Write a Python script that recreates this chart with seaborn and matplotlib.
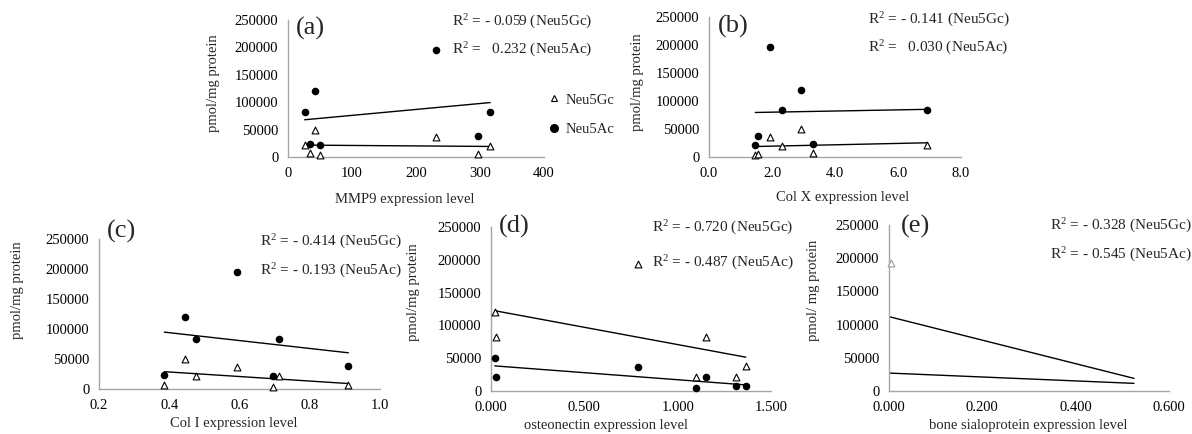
import numpy as np
import pandas as pd
import matplotlib
matplotlib.use("Agg")
import matplotlib.pyplot as plt
from matplotlib.ticker import StrMethodFormatter
import seaborn as sns

# ---------------- data ----------------
mmp9 = [26, 35, 42, 50, 232, 297, 316]
mmp9_gc = [21000, 7000, 50000, 4000, 37000, 6000, 20000]
mmp9_ac = [83000, 23000, 120000, 22000, 195000, 38000, 83000]

colx = [1.47, 1.55, 1.95, 2.33, 2.93, 3.29, 6.93]
colx_gc = [4000, 6000, 36000, 20000, 50000, 6500, 21000]
colx_ac = [22000, 38000, 196000, 84000, 120000, 23000, 84000]

coli = [0.386, 0.444, 0.476, 0.593, 0.694, 0.713, 0.910]
coli_gc = [6000, 50000, 21000, 37000, 4000, 21000, 6000]
coli_ac = [23000, 120000, 83000, 195000, 22000, 83000, 38000]

osteo = [0.020, 0.025, 0.785, 1.100, 1.150, 1.310, 1.365]
osteo_gc = [120000, 83000, 194000, 21000, 83000, 22000, 38000]
osteo_ac = [50000, 21000, 37000, 4000, 21000, 7000, 7000]

bsp_visible_x = [0.005]
bsp_visible_gc = [193000]
bsp_fit_x = [0.0, 0.525]
bsp_fit_ac = [112000, 19000]
bsp_fit_gc = [27000, 11500]

r2_labels = {
    "a": ["R$^{2}$ = - 0.059 (Neu5Gc)", "R$^{2}$ =   0.232 (Neu5Ac)"],
    "b": ["R$^{2}$ = - 0.141 (Neu5Gc)", "R$^{2}$ =   0.030 (Neu5Ac)"],
    "c": ["R$^{2}$ = - 0.414 (Neu5Gc)", "R$^{2}$ = - 0.193 (Neu5Ac)"],
    "d": ["R$^{2}$ = - 0.720 (Neu5Gc)", "R$^{2}$ = - 0.487 (Neu5Ac)"],
    "e": ["R$^{2}$ = - 0.328 (Neu5Gc)", "R$^{2}$ = - 0.545 (Neu5Ac)"],
}
y_ticks = [0, 50000, 100000, 150000, 200000, 250000]

# ---------------- style ----------------
sns.set_theme(style="white")
plt.rcParams["font.family"] = ["Liberation Serif", "DejaVu Serif"]
plt.rcParams["mathtext.fontset"] = "custom"
plt.rcParams["mathtext.rm"] = "Liberation Serif"
plt.rcParams["mathtext.it"] = "Liberation Serif:italic"
plt.rcParams["mathtext.bf"] = "Liberation Serif:bold"

W, H = 1192, 434
fig = plt.figure(figsize=(W / 100, H / 100), dpi=100)
GRAY = "#a6a6a6"


def add_ax(l, t, r, b):
    return fig.add_axes([l / W, 1 - b / H, (r - l) / W, (b - t) / H])


def ftext(px, py, s, size, ha="left", rot=0):
    fig.text(px / W, 1 - py / H, s, fontsize=size, ha=ha, va="center", rotation=rot)


def style(ax, xlim, xticks, fmt):
    ax.set_xlim(*xlim)
    ax.set_ylim(0, 250000)
    ax.set_xticks(xticks)
    ax.set_yticks(y_ticks)
    ax.xaxis.set_major_formatter(StrMethodFormatter(fmt))
    ax.yaxis.set_major_formatter(StrMethodFormatter("{x:.0f}"))
    sns.despine(ax=ax)
    for s in ("left", "bottom"):
        ax.spines[s].set_color(GRAY)
        ax.spines[s].set_linewidth(1.0)
    ax.tick_params(direction="out", length=4, width=1.0, color=GRAY,
                   labelsize=10.5, pad=3, labelcolor="black")
    ax.set_xlabel("")
    ax.set_ylabel("")


def scatter_pair(ax, x, gc, ac):
    sns.scatterplot(x=x, y=gc, ax=ax, marker="^", s=24, facecolor="white",
                    edgecolor="black", linewidth=0.8, clip_on=False, zorder=3)
    sns.scatterplot(x=x, y=ac, ax=ax, marker="o", s=30, color="black",
                    edgecolor="black", linewidth=0, clip_on=False, zorder=3)
    for yy in (gc, ac):
        sns.regplot(x=np.array(x), y=np.array(yy), ax=ax, scatter=False, ci=None,
                    truncate=True, line_kws=dict(color="black", lw=1.0))


# (a)
axa = add_ax(288, 20, 544, 157)
scatter_pair(axa, mmp9, mmp9_gc, mmp9_ac)
style(axa, (0, 400), [0, 100, 200, 300, 400], "{x:.0f}")

# (b)
axb = add_ax(709, 17, 961, 157)
scatter_pair(axb, colx, colx_gc, colx_ac)
style(axb, (0, 8), [0, 2, 4, 6, 8], "{x:.1f}")

# (c)
axc = add_ax(99, 239, 380, 389)
scatter_pair(axc, coli, coli_gc, coli_ac)
style(axc, (0.2, 1.0), [0.2, 0.4, 0.6, 0.8, 1.0], "{x:.1f}")

# (d)
axd = add_ax(491, 227, 771, 391)
scatter_pair(axd, osteo, osteo_gc, osteo_ac)
style(axd, (0, 1.5), [0, 0.5, 1.0, 1.5], "{x:.3f}")

# (e)
axe = add_ax(889, 225, 1169, 391)
sns.lineplot(x=bsp_fit_x, y=bsp_fit_ac, ax=axe, color="black", lw=1.0)
sns.lineplot(x=bsp_fit_x, y=bsp_fit_gc, ax=axe, color="black", lw=1.0)
sns.scatterplot(x=bsp_visible_x, y=bsp_visible_gc, ax=axe, marker="^", s=24,
                facecolor="white", edgecolor="#9a9a9a", linewidth=0.8,
                clip_on=False, zorder=3)
style(axe, (0, 0.6), [0, 0.2, 0.4, 0.6], "{x:.3f}")

# panel letters
ftext(296, 28, "(a)", 19)
ftext(718, 26, "(b)", 19)
ftext(107, 231, "(c)", 19)
ftext(499, 226, "(d)", 19)
ftext(901, 226, "(e)", 19)

# R^2 annotations
for key, (px, py1, py2) in {"a": (452, 22, 50), "b": (868, 20, 48),
                            "c": (260, 242, 271), "d": (652, 228, 263),
                            "e": (1050, 226, 255)}.items():
    ftext(px, py1, r2_labels[key][0], 11)
    ftext(px, py2, r2_labels[key][1], 11)

# legend in (a)
fig.legend(handles=[
    plt.Line2D([], [], marker="^", ls="", mfc="white", mec="black", ms=5, mew=0.8),
    plt.Line2D([], [], marker="o", ls="", mfc="black", mec="black", ms=5.5)],
    labels=["Neu5Gc", "Neu5Ac"], loc="upper left",
    bbox_to_anchor=(542 / W, 1 - 86 / H), frameon=False, fontsize=10.5,
    handlelength=0.6, handletextpad=0.5, labelspacing=1.1, borderpad=0)

# axis labels
ftext(213, 83, "pmol/mg protein", 10.5, ha="center", rot=90)
ftext(638, 82, "pmol/mg protein", 10.5, ha="center", rot=90)
ftext(18, 290, "pmol/mg protein", 10.5, ha="center", rot=90)
ftext(413, 292, "pmol/mg protein", 10.5, ha="center", rot=90)
ftext(813, 290, "pmol/ mg protein", 10.5, ha="center", rot=90)

ftext(405, 199, "MMP9 expression level", 10.5, ha="center")
ftext(843, 198, "Col X expression level", 10.5, ha="center")
ftext(234, 423, "Col I expression level", 10.5, ha="center")
ftext(606, 425, "osteonectin expression level", 10.5, ha="center")
ftext(1028, 425, "bone sialoprotein expression level", 10.5, ha="center")

fig.savefig("out.png", dpi=100, facecolor="white")
